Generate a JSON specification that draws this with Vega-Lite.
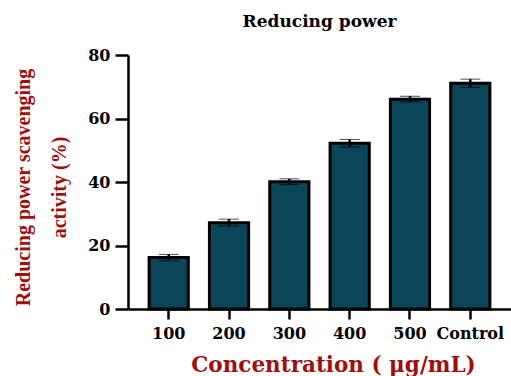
{
  "$schema": "https://vega.github.io/schema/vega-lite/v6.json",
  "autosize": "none",
  "width": 383,
  "height": 254,
  "padding": {"left": 128, "top": 55, "right": 0, "bottom": 67},
  "background": "white",
  "title": {
    "text": "Reducing power",
    "font": "DejaVu Serif",
    "fontWeight": "bold",
    "fontSize": 17,
    "color": "black",
    "anchor": "middle",
    "offset": 16
  },
  "data": {
    "values": [
      {"conc": "100", "mean": 16.2, "sd": 1.0},
      {"conc": "200", "mean": 27.2, "sd": 1.1},
      {"conc": "300", "mean": 40.1, "sd": 0.9},
      {"conc": "400", "mean": 52.2, "sd": 1.2},
      {"conc": "500", "mean": 66.1, "sd": 0.9},
      {"conc": "Control", "mean": 71.1, "sd": 1.3}
    ]
  },
  "config": {
    "view": {"stroke": null},
    "axis": {"grid": false}
  },
  "encoding": {
    "x": {
      "field": "conc",
      "type": "nominal",
      "sort": null,
      "scale": {"paddingInner": 0.35, "paddingOuter": 0.35},
      "axis": {
        "title": "Concentration ( μg/mL)",
        "titleFont": "DejaVu Serif",
        "titleFontWeight": "bold",
        "titleFontSize": 21.5,
        "titleColor": "#a00f0f",
        "titleX": 205,
        "titleY": 62,
        "titleBaseline": "alphabetic",
        "labelAngle": 0,
        "labelFont": "DejaVu Serif",
        "labelFontWeight": "bold",
        "labelFontSize": 16,
        "labelColor": "black",
        "labelPadding": 6,
        "labelOverlap": false,
        "domainColor": "black",
        "domainWidth": 2.5,
        "tickColor": "black",
        "tickWidth": 2.5,
        "tickSize": 10
      }
    },
    "y": {
      "field": "mean",
      "type": "quantitative",
      "scale": {"domain": [0, 80]},
      "axis": {
        "values": [0, 20, 40, 60, 80],
        "title": ["Reducing power scavenging", "activity (%)"],
        "titleFont": "Liberation Serif",
        "titleFontWeight": "bold",
        "titleFontSize": 20,
        "titleLineHeight": 36,
        "titleColor": "#a00f0f",
        "titlePadding": 18,
        "titleY": 132,
        "labelFont": "DejaVu Serif",
        "labelFontWeight": "bold",
        "labelFontSize": 16,
        "labelColor": "black",
        "labelPadding": 5,
        "domainColor": "black",
        "domainWidth": 2.5,
        "tickColor": "black",
        "tickWidth": 2.5,
        "tickSize": 13
      }
    }
  },
  "layer": [
    {
      "mark": {"type": "bar", "color": "#0a4657", "stroke": "black", "strokeWidth": 3}
    },
    {
      "mark": {"type": "errorbar", "ticks": {"color": "black", "strokeWidth": 3, "size": 20}, "rule": {"color": "black", "strokeWidth": 2.5}},
      "encoding": {
        "yError": {"field": "sd"}
      }
    }
  ]
}
